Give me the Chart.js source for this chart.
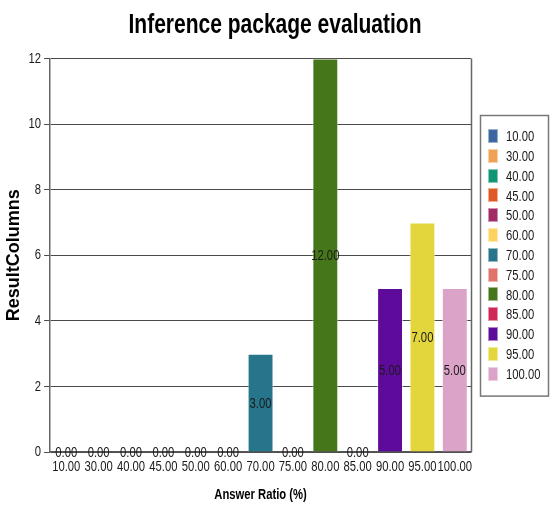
<!DOCTYPE html>
<html>
<head>
<meta charset="utf-8">
<script src="https://cdn.jsdelivr.net/npm/chart.js@4/dist/chart.umd.min.js"></script>
<style>
  html, body { margin: 0; padding: 0; background: #fff; }
  #wrap { width: 550px; height: 506px; position: relative; }
</style>
</head>
<body>
<div id="wrap"><canvas id="c" width="550" height="506"></canvas></div>
<script>
// Answer ratio buckets and the number of result columns in each
const categories = ['10.00', '30.00', '40.00', '45.00', '50.00', '60.00', '70.00', '75.00', '80.00', '85.00', '90.00', '95.00', '100.00'];
const resultColumns = [0, 0, 0, 0, 0, 0, 3, 0, 12, 0, 5, 7, 5];
const barColors = ['#3D67A0', '#EFA257', '#0E9675', '#E05A25', '#A22B66', '#FDD25F', '#27758A', '#E17468', '#46761A', '#CF2857', '#5E0B9C', '#E2D63C', '#DBA3C8'];
const yTicks = [0, 2, 4, 6, 8, 10, 12];

// Arial Narrow is not installed: text requested in it is drawn with
// Liberation Sans squeezed horizontally, and measured the same way.
const NARROW_FAMILY = '"Arial Narrow", "Liberation Sans", Arial, sans-serif';
const NARROW_SCALE = 0.75;
(function () {
  const proto = CanvasRenderingContext2D.prototype;
  const fill = proto.fillText;
  const measure = proto.measureText;
  const isNarrow = ctx => ctx.font.indexOf('Arial Narrow') !== -1;
  proto.fillText = function (text, x, y, maxWidth) {
    if (!isNarrow(this)) {
      return maxWidth === undefined ? fill.call(this, text, x, y) : fill.call(this, text, x, y, maxWidth);
    }
    this.save();
    this.translate(x, y);
    this.scale(NARROW_SCALE, 1);
    if (maxWidth === undefined) fill.call(this, text, 0, 0);
    else fill.call(this, text, 0, 0, maxWidth / NARROW_SCALE);
    this.restore();
  };
  proto.measureText = function (text) {
    const m = measure.call(this, text);
    if (!isNarrow(this)) return m;
    return {
      width: m.width * NARROW_SCALE,
      actualBoundingBoxLeft: m.actualBoundingBoxLeft * NARROW_SCALE,
      actualBoundingBoxRight: m.actualBoundingBoxRight * NARROW_SCALE,
      actualBoundingBoxAscent: m.actualBoundingBoxAscent,
      actualBoundingBoxDescent: m.actualBoundingBoxDescent,
      fontBoundingBoxAscent: m.fontBoundingBoxAscent,
      fontBoundingBoxDescent: m.fontBoundingBoxDescent
    };
  };
})();

// Value labels in the middle of each bar
const valueLabels = {
  id: 'valueLabels',
  afterDatasetsDraw(chart) {
    const ctx = chart.ctx;
    const meta = chart.getDatasetMeta(0);
    ctx.save();
    ctx.font = '15px ' + NARROW_FAMILY;
    ctx.fillStyle = '#1a1a1a';
    ctx.textAlign = 'center';
    ctx.textBaseline = 'middle';
    meta.data.forEach((bar, i) => {
      const v = resultColumns[i];
      const y = (bar.y + bar.base) / 2;
      ctx.fillText(v.toFixed(2), bar.x, y + 1);
    });
    ctx.restore();
  }
};

// Right edge of the plot frame, and the boxed legend beside it
const LEGEND_SPACE = 79;
const LEGEND = { gap: 9, width: 68, rowHeight: 19.8, padTop: 21, padBottom: 22, swatchX: 8, swatchW: 10, swatchH: 14, textX: 26 };
const frameAndLegend = {
  id: 'frameAndLegend',
  afterDraw(chart) {
    const ctx = chart.ctx;
    const a = chart.chartArea;
    ctx.save();
    ctx.strokeStyle = '#666';
    ctx.lineWidth = 1.5;
    ctx.beginPath();
    ctx.moveTo(Math.round(a.right) + 0.5, a.top);
    ctx.lineTo(Math.round(a.right) + 0.5, a.bottom);
    ctx.stroke();

    const n = categories.length;
    const h = LEGEND.padTop + LEGEND.padBottom + (n - 1) * LEGEND.rowHeight;
    const left = Math.round(a.right) + LEGEND.gap;
    const top = Math.round((a.top + a.bottom) / 2 - h / 2);
    ctx.strokeStyle = '#777';
    ctx.lineWidth = 1.5;
    ctx.strokeRect(left + 0.5, top + 0.5, LEGEND.width, h);

    ctx.font = '15px ' + NARROW_FAMILY;
    ctx.textAlign = 'left';
    ctx.textBaseline = 'middle';
    categories.forEach((c, i) => {
      const cy = top + LEGEND.padTop + i * LEGEND.rowHeight;
      ctx.fillStyle = barColors[i];
      ctx.fillRect(left + LEGEND.swatchX, Math.round(cy - LEGEND.swatchH / 2), LEGEND.swatchW, LEGEND.swatchH);
      ctx.strokeStyle = 'rgba(255,255,255,0.5)';
      ctx.lineWidth = 1;
      ctx.strokeRect(left + LEGEND.swatchX + 0.5, Math.round(cy - LEGEND.swatchH / 2) + 0.5, LEGEND.swatchW - 1, LEGEND.swatchH - 1);
      ctx.fillStyle = '#1a1a1a';
      ctx.fillText(c, left + LEGEND.textX, cy + 1);
    });
    ctx.restore();
  }
};

new Chart(document.getElementById('c'), {
  type: 'bar',
  data: {
    labels: categories,
    datasets: [{
      label: 'ResultColumns',
      data: resultColumns,
      backgroundColor: barColors,
      borderColor: 'rgba(255,255,255,0.55)',
      borderWidth: 1,
      barPercentage: 0.8,
      categoryPercentage: 1.0
    }]
  },
  options: {
    responsive: false,
    animation: false,
    devicePixelRatio: 1,
    layout: { padding: { left: 0, right: 0, top: 0, bottom: 2 } },
    plugins: {
      title: {
        display: true,
        text: 'Inference package evaluation',
        color: '#000',
        font: { family: NARROW_FAMILY, size: 28, weight: 'bold' },
        padding: { top: 8, bottom: 17 }
      },
      legend: { display: false },
      tooltip: { enabled: false }
    },
    scales: {
      x: {
        grid: { display: false, drawTicks: false },
        border: { display: true, color: '#555', width: 1.5 },
        ticks: {
          color: '#1a1a1a',
          font: { family: NARROW_FAMILY, size: 15 },
          padding: 6,
          maxRotation: 0,
          autoSkip: false
        },
        title: {
          display: true,
          text: 'Answer Ratio (%)',
          color: '#000',
          font: { family: NARROW_FAMILY, size: 15, weight: 'bold' },
          padding: { top: 4, bottom: 0 }
        }
      },
      y: {
        min: 0,
        max: 12,
        afterBuildTicks(axis) { axis.ticks = yTicks.map(v => ({ value: v })); },
        grid: { color: '#4a4a4a', lineWidth: 1, tickLength: 6, drawTicks: true },
        border: { display: true, color: '#666', width: 1.5 },
        ticks: {
          color: '#1a1a1a',
          font: { family: NARROW_FAMILY, size: 15 },
          padding: 3
        },
        title: {
          display: true,
          text: 'ResultColumns',
          color: '#000',
          font: { family: '"Liberation Sans", Arial, sans-serif', size: 18, weight: 'bold' },
          padding: { top: 3, bottom: 1 }
        }
      },
      // Empty right-hand axis that only reserves room for the legend
      legendSpace: {
        type: 'linear',
        position: 'right',
        display: true,
        grid: { display: false, drawTicks: false },
        border: { display: false },
        ticks: { display: false },
        afterFit(axis) { axis.width = LEGEND_SPACE; }
      }
    }
  },
  plugins: [valueLabels, frameAndLegend]
});
</script>
</body>
</html>
